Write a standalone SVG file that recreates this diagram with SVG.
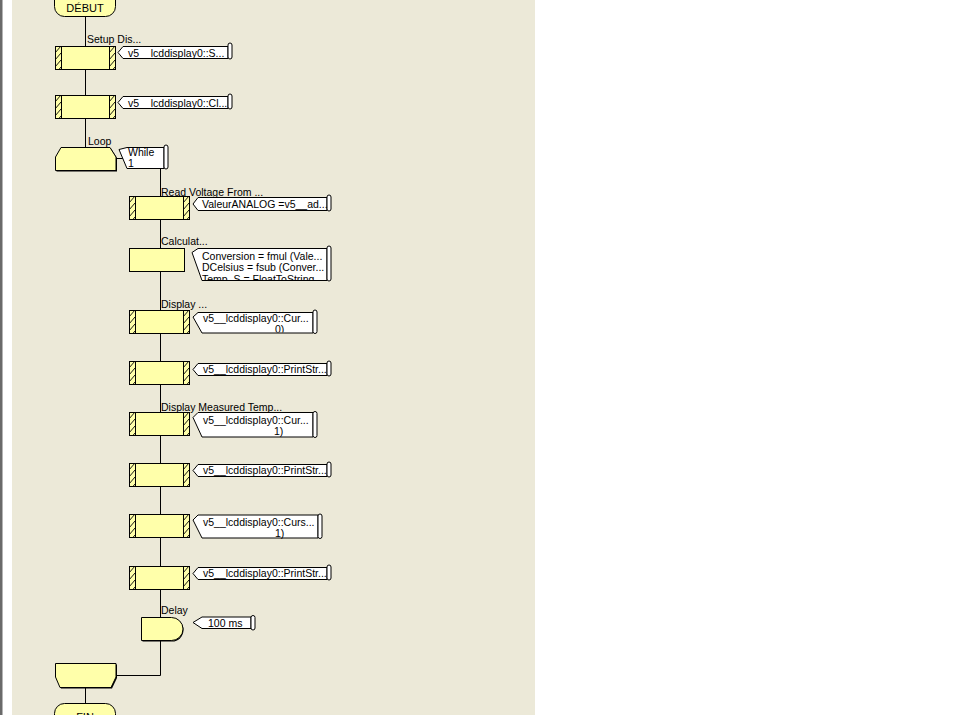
<svg xmlns="http://www.w3.org/2000/svg" width="960" height="718" viewBox="0 0 960 718">
<style>
.t{font-family:"Liberation Sans",Arial,sans-serif;font-size:10.5px;fill:#000}
.tc{font-family:"Liberation Sans",Arial,sans-serif;font-size:11px;fill:#000;text-anchor:middle}
.y{fill:#FFFFAA;stroke:#000;stroke-width:1}
.sh{fill:#000}
.c{fill:#fff;stroke:#000;stroke-width:1}
.ln{stroke:#000;stroke-width:1;fill:none}
</style>
<defs>
<pattern id="hatch" patternUnits="userSpaceOnUse" width="6" height="7">
<path d="M0,7 L6,0" stroke="#000" stroke-width="0.9"/>
</pattern>
<g id="hbox">
<rect x="1" y="1" width="60" height="23" class="sh"/>
<rect x="0.5" y="0.5" width="60" height="23" class="y"/>
<rect x="0.5" y="0.5" width="6" height="23" fill="url(#hatch)" stroke="#000"/>
<rect x="54.5" y="0.5" width="6" height="23" fill="url(#hatch)" stroke="#000"/>
</g>
<clipPath id="clipCalc"><rect x="190" y="248" width="140" height="32"/></clipPath>
<clipPath id="clipD1"><rect x="190" y="312" width="125" height="20.5"/></clipPath>
<clipPath id="clipBottom"><rect x="0" y="0" width="960" height="715"/></clipPath>
</defs>

<rect x="0" y="0" width="960" height="718" fill="#fff"/>
<rect x="0" y="0" width="2.5" height="715" fill="#6a6a6a"/>
<rect x="12" y="0" width="523" height="715" fill="#ECE9D8"/>

<g clip-path="url(#clipBottom)">
<g id="connectors">
<path class="ln" d="M85.5,16 V46 M85.5,69 V95 M85.5,118 V147"/>
<path class="ln" d="M116,158.5 H123"/>
<path class="ln" d="M160.5,168 V617 M160.5,640 V675.5 H116"/>
<path class="ln" d="M85.5,687 V703"/>
</g>

<g id="debut">
<rect x="54.5" y="-10" width="61" height="26.5" rx="10" class="y"/>
<text class="tc" x="85" y="11.5">DÉBUT</text>
</g>

<g id="setup">
<use href="#hbox" x="55" y="46"/>
<text class="t" x="87" y="43">Setup Dis...</text>
<path class="c" d="M123,46.5 H228 V58.5 H123 L118,52.5 Z"/>
<rect class="c" x="228" y="43" width="4" height="16" rx="2"/>
<text class="t" x="128" y="56.5">v5__lcddisplay0::S...</text>
</g>

<g id="clear">
<use href="#hbox" x="55" y="95"/>
<path class="c" d="M123,96.5 H228 V108.5 H123 L118,102.5 Z"/>
<rect class="c" x="228" y="94" width="4" height="15" rx="2"/>
<text class="t" x="128" y="107">v5__lcddisplay0::Cl...</text>
</g>

<g id="loop">
<path class="sh" d="M56.5,171.5 V158 L62,148.5 H111 L117,158 V171.5 Z"/>
<path class="y" d="M55.5,170.5 V157 L61,147.5 H110 L116,157 V170.5 Z"/>
<text class="t" x="88" y="145">Loop</text>
<path class="c" d="M127,147.5 H164 V168.5 H127 L123,159 L119,149.5 Z"/>
<rect class="c" x="164" y="145" width="4" height="24" rx="2"/>
<text class="t" x="128" y="156">While</text>
<text class="t" x="128" y="167">1</text>
</g>

<g id="read">
<use href="#hbox" x="129" y="196"/>
<text class="t" x="161" y="195.5">Read Voltage From ...</text>
<path class="c" d="M198,197.5 H327 V210.5 H198 L193,204 Z"/>
<rect class="c" x="327" y="195" width="4" height="16" rx="2"/>
<text class="t" x="202" y="208">ValeurANALOG =v5__ad...</text>
</g>

<g id="calc">
<rect x="130" y="249" width="55" height="23" class="sh"/>
<rect x="129.5" y="248.5" width="55" height="23" class="y"/>
<text class="t" x="161" y="245">Calculat...</text>
<path class="c" d="M198,248.5 H327 V280.5 H202 L192,252.5 Z"/>
<rect class="c" x="327" y="246" width="4" height="35" rx="2"/>
<g clip-path="url(#clipCalc)">
<text class="t" x="202" y="259.5">Conversion = fmul (Vale...</text>
<text class="t" x="202" y="271">DCelsius = fsub (Conver...</text>
<text class="t" x="202" y="282.5">Temp_S = FloatToString...</text>
</g>
</g>

<g id="display1">
<use href="#hbox" x="129" y="310"/>
<text class="t" x="161" y="308">Display ...</text>
<path class="c" d="M198,312.5 H313 V333 H202 L193,317 Z"/>
<rect class="c" x="313" y="310" width="4" height="23.5" rx="2"/>
<g clip-path="url(#clipD1)">
<text class="t" x="203" y="322">v5__lcddisplay0::Cur...</text>
<text class="t" x="275" y="333">0)</text>
</g>
</g>

<g id="print1">
<use href="#hbox" x="129" y="361"/>
<path class="c" d="M198,363.5 H327 V375.5 H198 L193,369.5 Z"/>
<rect class="c" x="327" y="361" width="4" height="15" rx="2"/>
<text class="t" x="203" y="372.5">v5__lcddisplay0::PrintStr...</text>
</g>

<g id="display2">
<use href="#hbox" x="129" y="412"/>
<text class="t" x="161" y="411">Display Measured Temp...</text>
<path class="c" d="M198,412.5 H313 V437 H202 L193,417.5 Z"/>
<rect class="c" x="313" y="411.5" width="4" height="26" rx="2"/>
<text class="t" x="203" y="423.5">v5__lcddisplay0::Cur...</text>
<text class="t" x="274" y="434.5">1)</text>
</g>

<g id="print2">
<use href="#hbox" x="129" y="463"/>
<path class="c" d="M198,464.5 H327 V476.5 H198 L193,470.5 Z"/>
<rect class="c" x="327" y="462" width="4" height="15" rx="2"/>
<text class="t" x="203" y="474">v5__lcddisplay0::PrintStr...</text>
</g>

<g id="cursor3">
<use href="#hbox" x="129" y="514"/>
<path class="c" d="M198,515 H318 V538 H202 L193,520 Z"/>
<rect class="c" x="318" y="514" width="4" height="24.5" rx="2"/>
<text class="t" x="203" y="525.5">v5__lcddisplay0::Curs...</text>
<text class="t" x="275" y="536.5">1)</text>
</g>

<g id="print3">
<use href="#hbox" x="129" y="566"/>
<path class="c" d="M198,567.5 H327 V579.5 H198 L193,573.5 Z"/>
<rect class="c" x="327" y="565" width="4" height="15" rx="2"/>
<text class="t" x="203" y="577">v5__lcddisplay0::PrintStr...</text>
</g>

<g id="delay">
<path class="sh" d="M142.5,618.5 H172 A11.5,11.5 0 0 1 172,641.5 H142.5 Z"/>
<path class="y" d="M141.5,617.5 H171.5 A11.5,11.5 0 0 1 171.5,640.5 H141.5 Z"/>
<text class="t" x="161" y="614">Delay</text>
<path class="c" d="M202,617 H251 V628.5 H202 L193,622.5 Z"/>
<rect class="c" x="251" y="615.5" width="4" height="14.5" rx="2"/>
<text class="t" x="208" y="627">100 ms</text>
</g>

<g id="loopend">
<path class="sh" d="M56.5,664.5 H117 V678 L112,688.5 H61 L56.5,678 Z"/>
<path class="y" d="M55.5,663.5 H116 V677 L111,687.5 H60 L55.5,677 Z"/>
</g>

<g id="fin">
<rect x="54.5" y="703.5" width="61" height="30" rx="10" class="y"/>
<text class="tc" x="85" y="720.5">FIN</text>
</g>
</g>
</svg>
